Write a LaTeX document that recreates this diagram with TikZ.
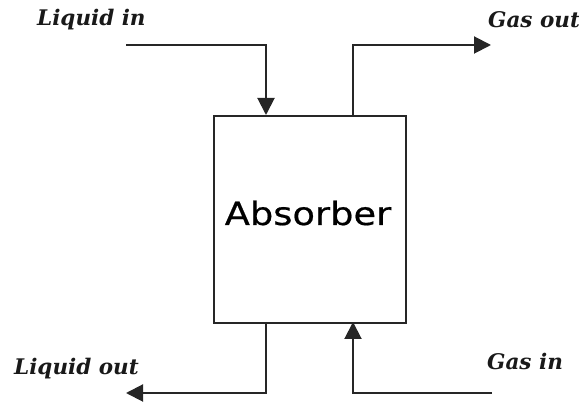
\documentclass[tikz,border=0pt]{standalone}
\usepackage{fontspec}
\usetikzlibrary{arrows.meta}
\newfontfamily\labfont{DejaVu Serif}
\newfontfamily\absfont[FakeStretch=1.15,FakeBold=0.6]{DejaVu Sans}
\begin{document}
\begin{tikzpicture}[x=1pt,y=-1pt,
  flow/.style={draw=black!85, line width=2pt, -{Triangle[length=17pt,width=17pt]}},
  lab/.style={font=\labfont\bfseries\itshape\fontsize{21.5}{24}\selectfont, text=black!90, inner sep=0pt, anchor=base west}]
\useasboundingbox (0,0) rectangle (579,403);
\node[draw=black!85, line width=2pt, minimum width=192pt, minimum height=207pt, inner sep=0pt, anchor=north west] (box) at (213,115) {};
\node[font=\absfont\fontsize{32}{36}\selectfont, anchor=base, inner sep=0pt] (abs) at (308,225) {Absorber};
% labels
\node[lab] (lin) at (37,26) {Liquid in};
\node[lab] (gout) at (488,28) {Gas out};
\node[lab] (lout) at (14,375) {Liquid out};
\node[lab] (gin) at (487,370) {Gas in};
% coordinates
\coordinate (a0) at (126,45);
\coordinate (a1) at (266,45);
\coordinate (a2) at (266,115);
\coordinate (b0) at (353,115);
\coordinate (b1) at (353,45);
\coordinate (b2) at (491,45);
\coordinate (c0) at (266,322);
\coordinate (c1) at (266,393);
\coordinate (c2) at (126,393);
\coordinate (d0) at (492,393);
\coordinate (d1) at (353,393);
\coordinate (d2) at (353,322);
\draw[flow] (a0) -- (a1) -- (a2);
\draw[flow] (b0) -- (b1) -- (b2);
\draw[flow] (c0) -- (c1) -- (c2);
\draw[flow] (d0) -- (d1) -- (d2);
\end{tikzpicture}
\end{document}
